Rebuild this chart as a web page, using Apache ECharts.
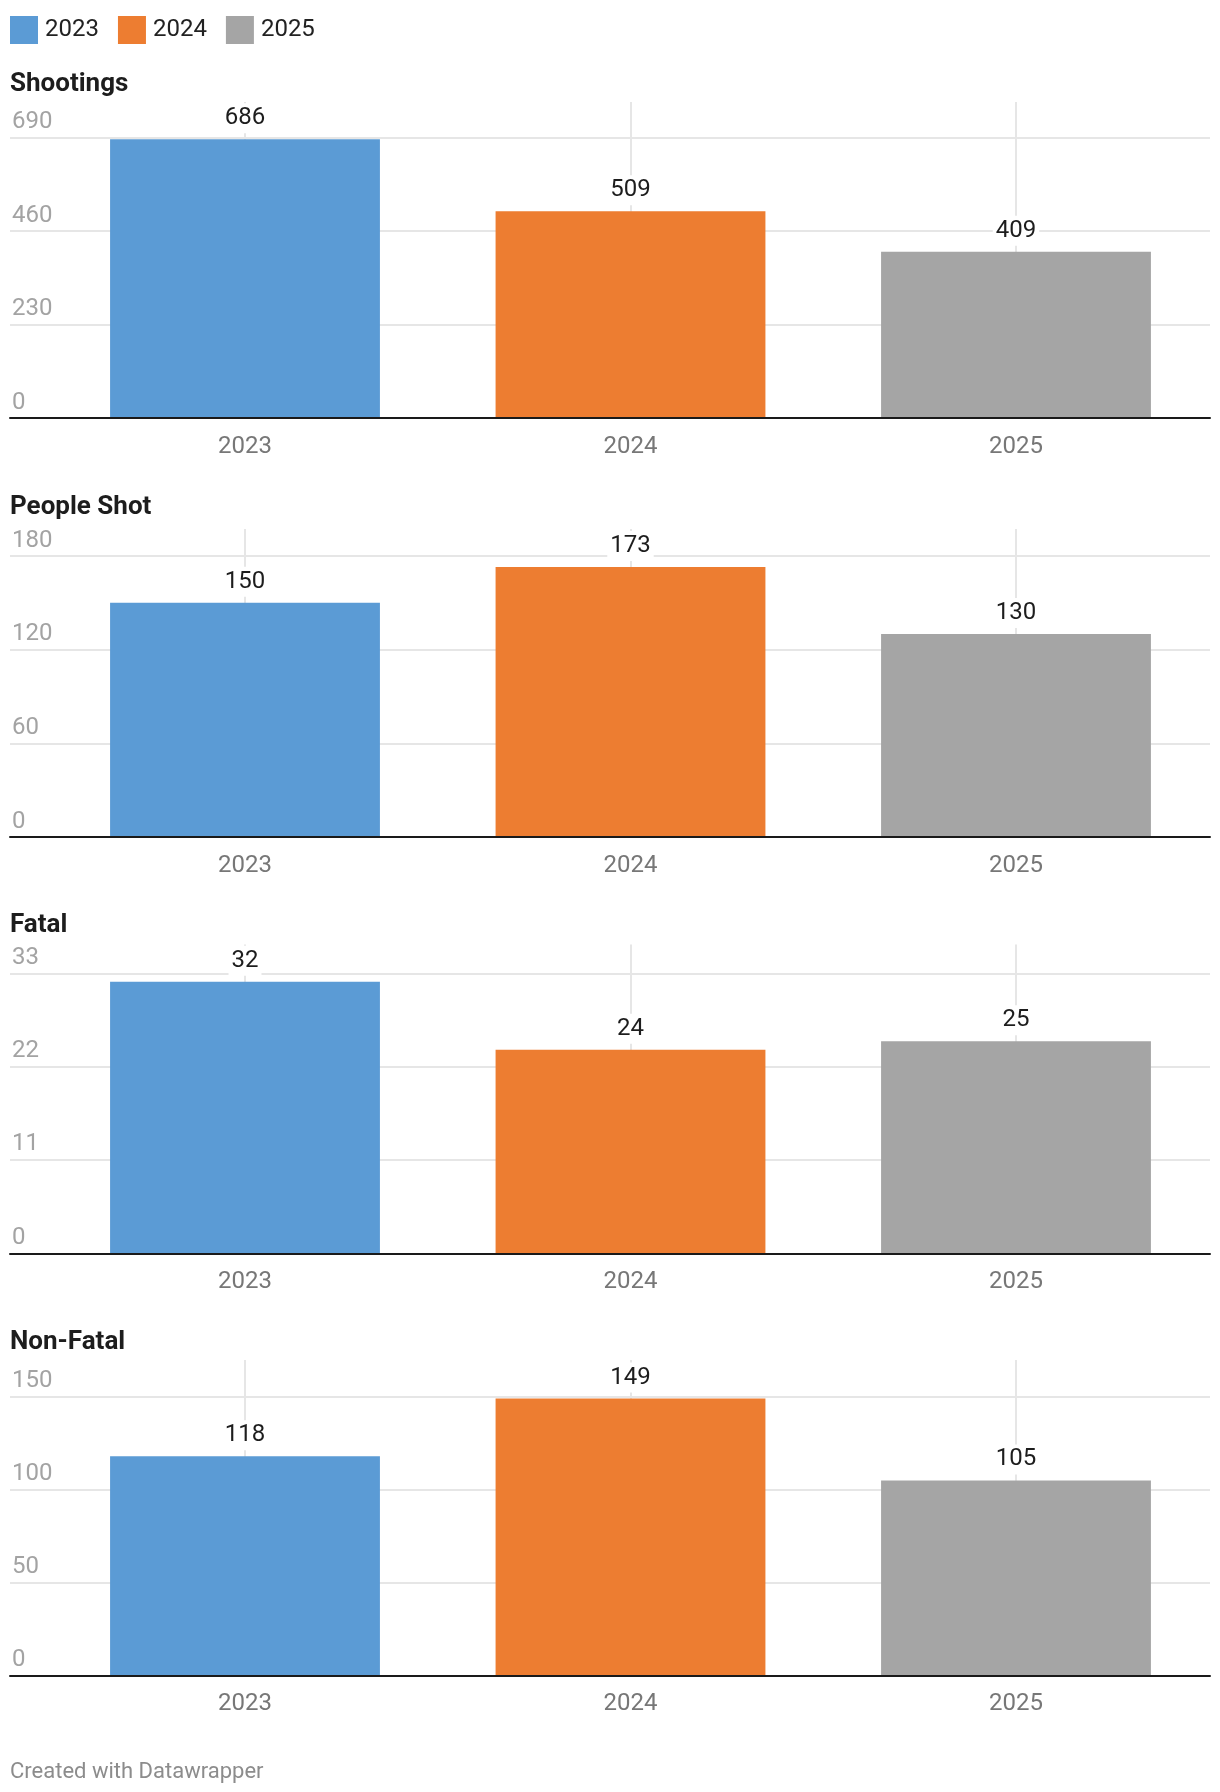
<!DOCTYPE html>
<html>
<head>
<meta charset="utf-8">
<script src="https://cdn.jsdelivr.net/npm/echarts@6/dist/echarts.min.js"></script>
<style>
html,body{margin:0;padding:0;background:#fff;}
#c{width:1220px;height:1792px;}
</style>
</head>
<body>
<div id="c"></div>
<script>
// ---- data ----
const years = ['2023', '2024', '2025'];
const panelTitles = ['Shootings', 'People Shot', 'Fatal', 'Non-Fatal'];
const shootings = [686, 509, 409];
const peopleShot = [150, 173, 130];
const fatal = [32, 24, 25];
const nonFatal = [118, 149, 105];
const tickSteps = [230, 60, 11, 50];
const topTicks = [690, 180, 33, 150];
const footerText = 'Created with Datawrapper';

// ---- styles / layout ----
const colors = ['#5B9BD5', '#ED7D31', '#A5A5A5'];
const H = 1792;
const layout = [
  { titleTop: 71.5, plotTop: 102, zero: 418, topTickY: 137.7 },
  { titleTop: 494, plotTop: 529, zero: 837, topTickY: 556 },
  { titleTop: 912, plotTop: 944.5, zero: 1253.3, topTickY: 973.3 },
  { titleTop: 1329.3, plotTop: 1360, zero: 1675.7, topTickY: 1396.7 }
];
const values = [shootings, peopleShot, fatal, nonFatal];

const grids = [], xAxes = [], yAxes = [], series = [], titles = [];
const gridColor = '#e6e6e6';

layout.forEach((L, i) => {
  const yMax = topTicks[i] * (L.zero - L.plotTop) / (L.zero - L.topTickY);
  const bottom = H - L.zero;
  titles.push({
    text: panelTitles[i], left: 10, top: L.titleTop, padding: 0,
    textStyle: { fontFamily: 'Roboto', fontSize: 26, fontWeight: 'bold', color: '#1d1d1d' }
  });
  // frame grid (gridlines, tick labels, baseline)
  grids.push({ left: 10, right: 10, top: L.plotTop, bottom: bottom });
  // bars grid
  grids.push({ left: 52.25, right: 11.25, top: L.plotTop, bottom: bottom });
  const nTicks = Math.floor(yMax / tickSteps[i] + 1e-9) + 1;
  const lineColors = [];
  for (let k = 0; k < nTicks; k++) lineColors.push(gridColor);
  lineColors.push('rgba(0,0,0,0)');
  xAxes.push({
    gridIndex: 2 * i, type: 'category', data: years, z: 5,
    axisLine: { show: true, lineStyle: { color: '#1a1a1a', width: 2 } },
    axisTick: { show: false }, axisLabel: { show: false }, splitLine: { show: false }
  });
  yAxes.push({
    gridIndex: 2 * i, type: 'value', min: 0, max: yMax, interval: tickSteps[i],
    axisLine: { show: false }, axisTick: { show: false },
    splitLine: { show: true, showMaxLine: false, lineStyle: { color: lineColors, width: 2 } },
    axisLabel: {
      inside: true, margin: 2, showMaxLabel: false, color: '#a3a3a3', fontSize: 24,
      fontFamily: 'Roboto', verticalAlign: 'bottom', lineHeight: 31, align: 'left'
    }
  });
  xAxes.push({
    gridIndex: 2 * i + 1, type: 'category', data: years,
    axisLine: { show: false }, axisTick: { show: false }, splitLine: { show: false },
    axisLabel: { color: '#777', fontSize: 24, fontFamily: 'Roboto', margin: 16.5 }
  });
  yAxes.push({ gridIndex: 2 * i + 1, type: 'value', min: 0, max: yMax, show: false });
  years.forEach((y, j) => {
    const s = {
      name: y, type: 'bar', xAxisIndex: 2 * i + 1, yAxisIndex: 2 * i + 1,
      barGap: '-100%', barCategoryGap: '30%',
      itemStyle: { color: colors[j] },
      data: values[i].map((v, k) => (k === j ? v : '-')),
      label: {
        show: true, position: 'top', distance: 6, color: '#1d1d1d', fontSize: 24,
        fontFamily: 'Roboto', lineHeight: 24, backgroundColor: '#fff', padding: [3, 3]
      },
      silent: true
    };
    if (j === 0) {
      s.markLine = {
        silent: true, z: 1, symbol: ['none', 'none'], label: { show: false },
        lineStyle: { color: gridColor, width: 2, type: 'solid' },
        emphasis: { disabled: true },
        data: years.map(c => ({ xAxis: c }))
      };
    }
    series.push(s);
  });
});

titles.push({
  text: footerText, left: 10, top: 1761, padding: 0,
  textStyle: { fontFamily: 'Roboto', fontSize: 22, fontWeight: 'normal', color: '#8c8c8c' }
});

const chart = echarts.init(document.getElementById('c'), null, { renderer: 'canvas' });
chart.setOption({
  animation: false,
  backgroundColor: '#fff',
  textStyle: { fontFamily: 'Roboto' },
  title: titles,
  legend: {
    data: years, left: 10, top: 16, padding: 0, icon: 'rect', itemWidth: 28, itemHeight: 28, itemGap: 19,
    selectedMode: false,
    textStyle: { fontSize: 24, color: '#222', fontFamily: 'Roboto', padding: [0, 0, 0, 2] }
  },
  grid: grids,
  xAxis: xAxes,
  yAxis: yAxes,
  series: series
});
</script>
</body>
</html>
